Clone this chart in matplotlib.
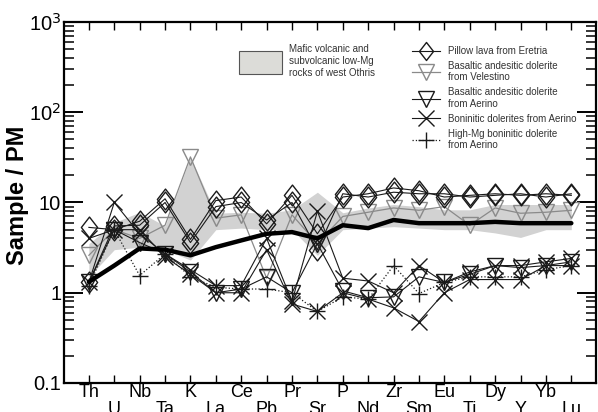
import numpy as np
import matplotlib
matplotlib.use("Agg")
import matplotlib.pyplot as plt
from matplotlib.path import Path
from matplotlib.patches import Patch
from matplotlib.lines import Line2D
from matplotlib.ticker import LogLocator, NullFormatter

plt.rcParams['font.family'] = ['Liberation Sans', 'DejaVu Sans']

# --- data (sample / primitive mantle) ---
elements = ['Th', 'U', 'Nb', 'Ta', 'K', 'La', 'Ce', 'Pb', 'Pr', 'Sr',
            'P', 'Nd', 'Zr', 'Sm', 'Eu', 'Ti', 'Dy', 'Y', 'Yb', 'Lu']

field_low = [1.5, 3.0, 3.2, 3.0, 2.3, 5.0, 5.2, 5.0, 5.0, 2.6,
             5.0, 5.2, 5.4, 5.2, 5.0, 5.0, 4.6, 4.1, 5.0, 5.0]
field_high = [3.5, 6.0, 7.8, 5.5, 32, 7.6, 7.8, 7.6, 8.3, 13,
              7.7, 8.7, 9.5, 9.0, 8.3, 8.3, 9.5, 9.5, 9.5, 9.5]
field_avg = [1.32, 2.0, 3.1, 3.0, 2.6, 3.2, 3.8, 4.5, 4.7, 4.0,
             5.6, 5.2, 6.4, 5.9, 5.9, 5.9, 6.1, 5.9, 5.9, 5.9]

eretria_1 = [5.3, 5.0, 6.2, 11, 3.9, 10.5, 11.5, 5.8, 12, 4.5,
             11.5, 12.5, 14.5, 13.5, 11.5, 12, 12.5, 12, 12.5, 12]
eretria_2 = [1.3, 5.5, 5.6, 10, 3.6, 9.0, 10.0, 6.4, 10, 3.0,
             12.5, 11.5, 13, 12.5, 12.5, 11.5, 12, 12.5, 11.5, 12.5]
velestino = [2.6, 5.0, 4.0, 5.6, 32, 6.7, 7.3, 1.45, 7.3, 3.5,
             7.0, 7.8, 8.7, 8.2, 9.0, 5.6, 8.7, 7.6, 7.8, 8.2]
aerino_bad = [1.3, 5.0, 3.6, 2.7, 1.7, 1.0, 1.1, 1.5, 1.0, 3.5,
              1.05, 0.88, 0.9, 1.5, 1.3, 1.6, 2.0, 1.9, 2.0, 2.2]
boninite_1 = [1.3, 10, 4.5, 2.7, 1.8, 1.2, 1.2, 4.0, 0.8, 8.0,
              1.45, 1.35, 1.0, 2.0, 1.3, 1.7, 2.0, 2.0, 2.2, 2.4]
boninite_2 = [4.0, 5.0, 5.0, 2.5, 1.6, 1.0, 1.0, 3.0, 0.75, 0.62,
              1.0, 0.85, 0.68, 0.48, 1.0, 1.4, 1.4, 1.4, 2.0, 2.0]
highmg = [1.2, 5.0, 1.55, 2.7, 1.5, 1.15, 1.1, 1.1, 1.0, 0.62,
          0.9, 0.85, 2.0, 0.98, 1.3, 1.5, 1.5, 1.5, 1.8, 2.0]

x = np.arange(len(elements))

# tall open diamond
diamond = Path([(0, 1), (0.78, 0), (0, -1), (-0.78, 0), (0, 1)],
               [Path.MOVETO, Path.LINETO, Path.LINETO, Path.LINETO, Path.CLOSEPOLY])

fig = plt.figure(figsize=(5.98, 4.12), dpi=100)
ax = fig.add_axes([0.107, 0.0704, 0.890, 0.8762])

# field of west Othris rocks
ax.fill_between(x, field_low, field_high, color="#d2d2d2", lw=0, zorder=1)

dk = "#1a1a1a"
gr = "#8a8a8a"
ax.plot(x, velestino, color=gr, lw=0.9, marker="v", ms=11, mfc="none",
        mec=gr, mew=1.0, zorder=3)
ax.plot(x, aerino_bad, color=dk, lw=0.8, marker="v", ms=11, mfc="none",
        mec=dk, mew=1.0, zorder=3)
for s in (eretria_1, eretria_2):
    ax.plot(x, s, color=dk, lw=0.8, marker=diamond, ms=15, mfc="none",
            mec=dk, mew=1.0, zorder=4)
for s in (boninite_1, boninite_2):
    ax.plot(x, s, color=dk, lw=0.8, marker="x", ms=11, mec=dk, mew=1.0, zorder=4)
ax.plot(x, highmg, color=dk, lw=0.9, ls=":", marker="+", ms=12, mew=1.0, zorder=4)

# average of the field
ax.plot(x, field_avg, color="black", lw=3.2, zorder=5, solid_capstyle="round")

ax.set_yscale("log")
ax.set_ylim(0.1, 1000)
ax.set_xlim(-0.98, 19.98)

ax.yaxis.set_minor_locator(LogLocator(base=10, subs=np.arange(2, 10), numticks=10))
ax.yaxis.set_minor_formatter(NullFormatter())
ax.set_yticks([0.1, 1, 10, 100, 1000])
ax.set_yticklabels(["0.1", "1", "10", r"10$^2$", r"10$^3$"], fontsize=14.5)

ax.set_xticks(x)
ax.set_xticklabels([e if i % 2 == 0 else "\n" + e for i, e in enumerate(elements)],
                   fontsize=13, linespacing=0.95)

ax.tick_params(axis="y", which="major", direction="in", length=14, width=1.4,
               right=True, pad=2)
ax.tick_params(axis="y", which="minor", direction="in", length=7, width=1.1, right=True)
ax.tick_params(axis="x", which="major", direction="in", length=6, width=1.0,
               top=True, pad=1)

for sp in ax.spines.values():
    sp.set_linewidth(1.6)

ax.set_ylabel("Sample / PM", fontsize=17, fontweight="bold")
ax.yaxis.set_label_coords(-0.066, 0.52)

# legends
leg1 = ax.legend([Patch(facecolor="#dcdcd8", edgecolor="#555555", lw=0.8)],
                 ["Mafic volcanic and\nsubvolcanic low-Mg\nrocks of west Othris"],
                 loc="upper left", bbox_to_anchor=(0.313, 0.962), frameon=False,
                 fontsize=7, handlelength=4.4, handleheight=3.3, handletextpad=0.7,
                 labelcolor="#333333")
ax.add_artist(leg1)

h = [Line2D([], [], color=dk, lw=0.8, marker=diamond, ms=13, mfc="none", mec=dk),
     Line2D([], [], color=gr, lw=0.9, marker="v", ms=11, mfc="none", mec=gr),
     Line2D([], [], color=dk, lw=0.8, marker="v", ms=11, mfc="none", mec=dk),
     Line2D([], [], color=dk, lw=0.8, marker="x", ms=11, mec=dk),
     Line2D([], [], color=dk, lw=0.9, ls=":", marker="+", ms=12)]
labs = ["Pillow lava from Eretria",
        "Basaltic andesitic dolerite\nfrom Velestino",
        "Basaltic andesitic dolerite\nfrom Aerino",
        "Boninitic dolerites from Aerino",
        "High-Mg boninitic dolerite\nfrom Aerino"]
ax.legend(h, labs, loc="upper left", bbox_to_anchor=(0.638, 0.958), frameon=False,
          fontsize=7, handlelength=2.9, handletextpad=0.8, labelspacing=0.5,
          labelcolor="#333333")

plt.savefig("out.png", dpi=100)
